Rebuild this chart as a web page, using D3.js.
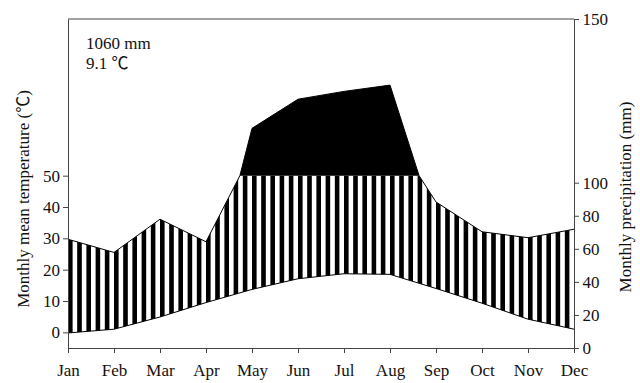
<!DOCTYPE html>
<html>
<head>
<meta charset="utf-8">
<script src="https://cdn.jsdelivr.net/npm/d3@7"></script>
<style>
  body { margin: 0; background: #fff; }
  svg text { font-family: "Liberation Serif", "Noto Sans CJK SC", serif; fill: #111; }
</style>
</head>
<body>
<div id="chart"></div>
<script>
// climate diagram data
const months = ["Jan","Feb","Mar","Apr","May","Jun","Jul","Aug","Sep","Oct","Nov","Dec"];
const temp = [-0.2, 1.0, 4.9, 9.5, 13.7, 17.1, 18.7, 18.5, 14.0, 9.3, 4.2, 1.0];   // deg C
const precip = [59.4, 51.0, 72.2, 57.8, 115.1, 124.4, 126.9, 128.9, 83.2, 64.2, 60.4, 65.8]; // mm
const tempTicks = [0, 10, 20, 30, 40, 50];
const precipTicks = [0, 20, 40, 60, 80, 100, 150];
const infoLines = ["1060 mm", "9.1 \u2103"];

const W = 640, H = 383;
const mLeft = 68, mRight = 574, mTop = 19, mBottom = 348;
const fs = 17;

const svg = d3.select("#chart").append("svg")
    .attr("width", W)
    .attr("height", H);

let x = d3.scaleLinear().domain([0, 11]).range([mLeft, mRight]);
let yT = d3.scaleLinear().domain([-5, 100]).range([mBottom, mTop]);
// precipitation drawn at 20 mm = 10 C, compressed above 100 mm
let yP = d3.scaleLinear().domain([0, 100, 150]).range([yT(0), yT(50), yT(100)]);
let yR = d3.scaleLinear().domain([0, 100, 150]).range([mBottom, 182.7, mTop]);

// hatch pattern
let defs = svg.append("defs");
let pat = defs.append("pattern")
    .attr("id", "hatch")
    .attr("patternUnits", "userSpaceOnUse")
    .attr("x", mLeft)
    .attr("y", 0)
    .attr("width", 9.2)
    .attr("height", 10);
pat.append("rect").attr("width", 4.6).attr("height", 10).attr("fill", "#000");

// precipitation points with the 100 mm crossings put in
let pts = [];
for (let i = 0; i < precip.length; i++) {
    if (i > 0) {
        let a = precip[i-1], b = precip[i];
        if ((a - 100) * (b - 100) < 0) {
            let t = (100 - a) / (b - a);
            pts.push({i: i - 1 + t, p: 100, cross: true});
        }
    }
    pts.push({i: i, p: precip[i]});
}

let line = d3.line().x(d => d[0]).y(d => d[1]);

// hatched (humid) area: capped precipitation down to temperature
let hatchPoly = pts.map(d => [x(d.i), yP(Math.min(d.p, 100))]);
for (let i = temp.length - 1; i >= 0; i--) hatchPoly.push([x(i), yT(temp[i])]);
svg.append("path")
    .attr("d", line(hatchPoly) + "Z")
    .attr("fill", "url(#hatch)");

// black area above 100 mm
let wet = pts.filter(d => d.p >= 100);
let blackPoly = wet.map(d => [x(d.i), yP(d.p)]);
svg.append("path")
    .attr("d", line(blackPoly) + "Z")
    .attr("fill", "#000");

// outlines
svg.append("path")
    .attr("d", line(pts.map(d => [x(d.i), yP(d.p)])))
    .attr("fill", "none")
    .attr("stroke", "#000")
    .attr("stroke-width", 1);
svg.append("path")
    .attr("d", line(temp.map((t, i) => [x(i), yT(t)])))
    .attr("fill", "none")
    .attr("stroke", "#000")
    .attr("stroke-width", 1);

// frame top
svg.append("line")
    .attr("x1", mLeft).attr("x2", mRight)
    .attr("y1", mTop).attr("y2", mTop)
    .attr("stroke", "#444");

// axes
let xAxis = d3.axisBottom(x).tickValues(d3.range(12)).tickFormat(i => months[i]).tickSize(5).tickSizeOuter(0);
let gx = svg.append("g").attr("transform", `translate(0,${mBottom})`).call(xAxis);

let gl = svg.append("g").attr("transform", `translate(${mLeft},0)`)
    .call(d3.axisLeft(yT).tickValues(tempTicks).tickSize(5).tickSizeOuter(0));
let gr = svg.append("g").attr("transform", `translate(${mRight},0)`)
    .call(d3.axisRight(yR).tickValues(precipTicks).tickSize(5).tickSizeOuter(0));

[gx, gl, gr].forEach(g => {
    g.select(".domain").attr("stroke", "#444");
    g.selectAll(".tick line").attr("stroke", "#444");
    g.selectAll(".tick text").attr("font-size", fs).attr("font-family", "Liberation Serif").attr("fill", "#111");
});
gx.selectAll(".tick text").attr("dy", "1.18em");
gl.selectAll(".tick text").attr("x", -8);
gr.selectAll(".tick text").attr("x", 8.5);

// axis titles
svg.append("text")
    .attr("transform", "translate(23,199) rotate(-90)")
    .attr("text-anchor", "middle")
    .attr("dy", "0.35em")
    .attr("font-size", fs)
    .text("Monthly mean temperature (\u2103)");
svg.append("text")
    .attr("transform", "translate(625,197) rotate(-90)")
    .attr("text-anchor", "middle")
    .attr("dy", "0.35em")
    .attr("font-size", fs)
    .text("Monthly precipitation (mm)");

// station info
svg.selectAll(".info").data(infoLines).enter().append("text")
    .attr("class", "info")
    .attr("x", 86)
    .attr("y", (d, i) => 49 + i * 20)
    .attr("font-size", fs)
    .text(d => d);
</script>
</body>
</html>
